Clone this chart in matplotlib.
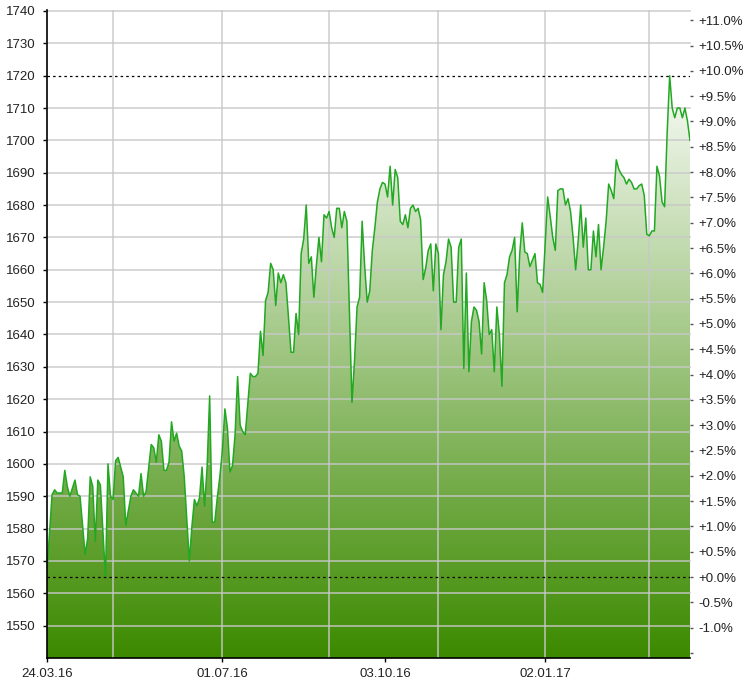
import numpy as np
import matplotlib.pyplot as plt
from matplotlib.colors import LinearSegmentedColormap

plt.rcParams['font.family'] = ['Liberation Sans', 'DejaVu Sans']

# Trading-day index and closing value at each turning point of the line
days = [0, 2, 3, 4, 6, 7, 8, 9, 11, 12, 13, 15, 16, 17, 18, 19, 20, 21, 23, 24,
        25, 26, 27, 28, 30, 31, 33, 34, 35, 36, 37, 38, 39, 41, 42, 43, 44, 45, 46, 47,
        48, 49, 50, 51, 52, 53, 54, 56, 57, 58, 59, 60, 61, 62, 63, 64, 65, 66, 67, 68,
        69, 70, 71, 72, 73, 74, 75, 76, 77, 78, 80, 81, 82, 83, 84, 85, 86, 87, 88, 89,
        90, 91, 92, 93, 94, 95, 96, 97, 98, 99, 100, 101, 102, 103, 104, 105, 106, 107, 108, 109,
        110, 111, 112, 113, 114, 115, 116, 117, 118, 120, 121, 122, 123, 124, 125, 126, 127, 128, 129, 130,
        131, 132, 133, 134, 135, 136, 137, 138, 139, 140, 141, 142, 143, 144, 145, 146, 147, 148, 149, 150,
        151, 152, 153, 154, 155, 156, 157, 158, 159, 160, 161, 162, 163, 164, 165, 166, 167, 168, 169, 170,
        171, 172, 173, 174, 175, 176, 177, 178, 179, 180, 181, 182, 183, 184, 185, 186, 187, 188, 189, 190,
        191, 192, 193, 194, 195, 196, 197, 198, 199, 200, 201, 202, 203, 204, 205, 206, 207, 208, 209, 210,
        211, 212, 213, 214, 215, 216, 217, 218, 219, 220, 221, 222, 223, 224, 225, 226, 227, 228, 229, 230,
        231, 232, 233, 234, 235, 236, 237, 238, 239, 240, 241, 242, 243, 244, 245, 246, 247, 248, 249, 250,
        251, 252, 253]
values = [1567, 1590.5, 1592, 1591, 1591, 1598, 1593, 1590, 1595, 1590.5, 1590, 1572, 1577, 1596, 1593, 1576, 1595, 1593.5, 1565, 1600,
          1590, 1589, 1601, 1602, 1596, 1581, 1590, 1592, 1591, 1590, 1597, 1590, 1591.5, 1606, 1605, 1600.5, 1609, 1607, 1598, 1598,
          1600.5, 1613, 1607, 1609.5, 1605.5, 1604, 1596, 1570, 1580.5, 1589, 1587, 1589.5, 1599, 1587, 1599, 1621, 1582, 1582, 1589.5, 1596,
          1604, 1617, 1611, 1597.5, 1599.5, 1609, 1627, 1612, 1610, 1609, 1628, 1627, 1627, 1628, 1641, 1633.5, 1650.5, 1653, 1662, 1660,
          1649, 1659, 1656, 1658.5, 1656, 1645.5, 1634.5, 1634.5, 1646.5, 1640, 1665, 1669.5, 1680, 1662, 1664, 1651.5, 1661.5, 1670, 1662.5, 1677,
          1676, 1678, 1673, 1670, 1679, 1679, 1673, 1678, 1675, 1619, 1632, 1648.5, 1651.5, 1675, 1661, 1650, 1653.5, 1666, 1673, 1681,
          1685, 1687, 1686.5, 1682.5, 1692, 1680, 1691, 1688.5, 1675, 1674, 1677, 1673, 1679, 1680, 1678, 1679, 1675.5, 1657, 1660.5, 1666,
          1668, 1653.5, 1668, 1665, 1641.5, 1658.5, 1662.5, 1669.5, 1667, 1650, 1650, 1667, 1669.5, 1629.5, 1659, 1628.5, 1644, 1648.5, 1647.5, 1644,
          1634, 1656, 1650.5, 1640, 1641.5, 1628.5, 1648.5, 1640, 1624, 1656, 1658.5, 1664, 1666, 1670, 1647, 1665, 1674.5, 1665.5, 1665, 1661,
          1663, 1665, 1656, 1655.5, 1653, 1668, 1682.5, 1676.5, 1670, 1666, 1684.5, 1685, 1685, 1680, 1682, 1678, 1670, 1660, 1669, 1680,
          1667, 1676, 1660, 1660, 1672, 1664, 1674, 1660, 1667, 1675, 1686.5, 1684.5, 1682, 1694, 1691, 1689.5, 1688.5, 1686.5, 1688, 1687,
          1685, 1685, 1686, 1686.5, 1683, 1671, 1670.5, 1672, 1672, 1692, 1689, 1681, 1679.5, 1702, 1720, 1710, 1707, 1710, 1710, 1707,
          1710, 1706, 1700]

date_labels = ['24.03.16', '01.07.16', '03.10.16', '02.01.17']
date_days = [0, 69, 133, 196]
grid_days = [26, 69, 111, 154, 196, 237]

days = np.array(days)
values = np.array(values)
base = values.min()
top = values.max()
ymin, ymax = 1540, 1740

fig = plt.figure(figsize=(7.51, 6.85), dpi=100)
ax = fig.add_axes([47 / 751, 27 / 685, 643 / 751, 648 / 685])
ax.set_xlim(days[0], days[-1])
ax.set_ylim(ymin, ymax + 0.3)

# gradient fill clipped to the area under the line
cmap = LinearSegmentedColormap.from_list('g', ['#ffffff', '#3c8a00'])
grad = np.linspace(0, 1, 256).reshape(-1, 1)
area = ax.fill_between(days, values, ymin, facecolor='none', edgecolor='none')
im = ax.imshow(grad, cmap=cmap, aspect='auto', origin='upper',
               extent=[days[0], days[-1], ymin, 1725], zorder=1)
im.set_clip_path(area.get_paths()[0], transform=ax.transData)

# grid
for v in range(1550, 1741, 10):
    if v != 1720:
        ax.axhline(v, color='#c8c8c8', lw=1.2, alpha=0.85, zorder=2, clip_on=False)
for d in grid_days:
    ax.axvline(d, color='#c8c8c8', lw=1.2, alpha=0.85, zorder=2)

ax.plot(days, values, color='#22a822', lw=1.1, zorder=3)
ax.axhline(top, color='black', lw=0.9, ls=(0, (2, 2.5)), zorder=4)
ax.axhline(base, color='black', lw=0.9, ls=(0, (2, 2.5)), zorder=4)

for s in ['top', 'right']:
    ax.spines[s].set_visible(False)
for s in ['left', 'bottom']:
    ax.spines[s].set_linewidth(1.2)
    ax.spines[s].set_zorder(5)

ax.set_yticks(range(1550, 1741, 10))
ax.set_xticks(date_days)
ax.set_xticklabels(date_labels)
ax.tick_params(axis='both', labelsize=9.5, length=3, width=1, colors='black',
               labelcolor='#222222')
ax.tick_params(axis='y', pad=5)
ax.tick_params(axis='x', pad=4)

# right axis: change relative to the low
pcts = np.arange(-1.5, 11.01, 0.5)
ax2 = ax.twinx()
ax2.set_ylim(ax.get_ylim())
ax2.set_yticks(base * (1 + pcts / 100))
ax2.set_yticklabels(['' if p < -1.2 else f'{p:+.1f}%' for p in pcts])
ax2.tick_params(axis='y', labelsize=9.5, length=2, width=1, colors='#555555',
                labelcolor='#222222', pad=4)
for s in ax2.spines.values():
    s.set_visible(False)

fig.savefig('out.png', dpi=100)
